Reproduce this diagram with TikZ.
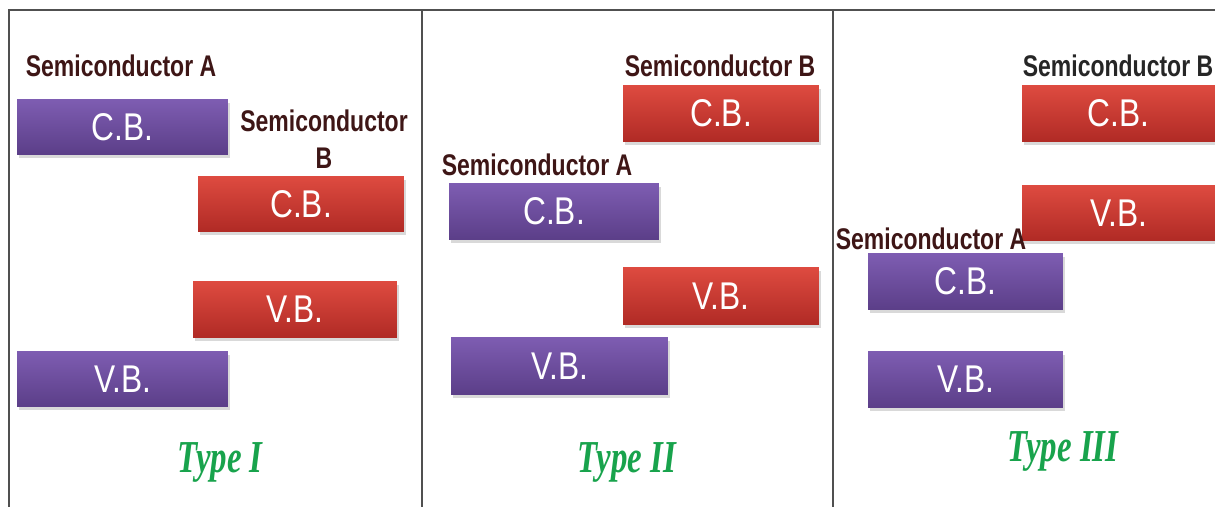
\documentclass[tikz,border=0pt]{standalone}
\usepackage{fontspec}
\usepackage{tikz}
\usetikzlibrary{positioning,shadows}
\newfontfamily\bandfont[FakeStretch=0.82]{Liberation Sans}
\newfontfamily\labfont[FakeStretch=0.77]{Liberation Sans}
\newfontfamily\typefont[FakeStretch=0.72]{Liberation Serif}
\definecolor{purpleTop}{HTML}{7E5DB2}
\definecolor{purpleBot}{HTML}{5B3E88}
\definecolor{redTop}{HTML}{DE4B40}
\definecolor{redBot}{HTML}{B02A25}
\definecolor{labcol}{HTML}{3E1616}
\definecolor{typecol}{HTML}{18A34C}
\definecolor{framecol}{HTML}{505050}

\begin{document}
\begin{tikzpicture}[x=0.02cm,y=-0.02cm,
  band/.style={rectangle,inner sep=0pt,text=white,
               font=\bandfont\fontsize{22}{24}\selectfont,
               drop shadow={opacity=0.3,shadow xshift=0.04cm,shadow yshift=-0.07cm}},
  aband/.style={band,top color=purpleTop,bottom color=purpleBot},
  bband/.style={band,top color=redTop,bottom color=redBot},
  semilab/.style={inner sep=0pt,text=labcol,align=center,
                  font=\labfont\bfseries\fontsize{17}{21}\selectfont},
  typelab/.style={inner sep=0pt,anchor=base,text=typecol,
                  font=\typefont\bfseries\itshape\fontsize{26}{28}\selectfont}]
  \useasboundingbox (0,0) rectangle (1215,507);
  % frame and panel dividers
  \draw[framecol,line width=1.2pt] (9,507) -- (9,10) -- (1215,10);
  \draw[framecol,line width=1.2pt] (422,10) -- (422,507) (833,10) -- (833,507);

  % Type I: straddling gap
  \node[semilab] (labA1) at (121,66) {Semiconductor A};
  \node[aband,minimum width=4.22cm,minimum height=1.12cm] (a1cb) at (122.5,127) {C.B.};
  \node[semilab] (labB1) at (324,139) {Semiconductor\\B};
  \node[bband,minimum width=4.12cm,minimum height=1.12cm] (b1cb) at (301,204) {C.B.};
  \node[bband,minimum width=4.08cm,minimum height=1.14cm] (b1vb) at (295,309.5) {V.B.};
  \node[aband,minimum width=4.22cm,minimum height=1.12cm] (a1vb) at (122.5,379) {V.B.};
  \node[typelab] (type1) at (220,472) {Type I};

  % Type II: staggered gap
  \node[semilab] (labB2) at (720,66) {Semiconductor B};
  \node[bband,minimum width=3.92cm,minimum height=1.14cm] (b2cb) at (721,113.5) {C.B.};
  \node[semilab] (labA2) at (537,165) {Semiconductor A};
  \node[aband,minimum width=4.2cm,minimum height=1.14cm] (a2cb) at (554,211.5) {C.B.};
  \node[bband,minimum width=3.92cm,minimum height=1.16cm] (b2vb) at (721,296) {V.B.};
  \node[aband,minimum width=4.34cm,minimum height=1.16cm] (a2vb) at (559.5,366) {V.B.};
  \node[typelab] (type2) at (627,472) {Type II};

  % Type III: broken gap
  \node[semilab,text=black!85] (labB3) at (1118,66) {Semiconductor B};
  \node[bband,minimum width=3.86cm,minimum height=1.14cm] (b3cb) at (1118.5,113.5) {C.B.};
  \node[bband,minimum width=3.86cm,minimum height=1.12cm] (b3vb) at (1118.5,213) {V.B.};
  \node[semilab] (labA3) at (931,239) {Semiconductor A};
  \node[aband,minimum width=3.9cm,minimum height=1.14cm] (a3cb) at (965.5,281.5) {C.B.};
  \node[aband,minimum width=3.9cm,minimum height=1.14cm] (a3vb) at (965.5,379.5) {V.B.};
  \node[typelab] (type3) at (1063,461) {Type III};
\end{tikzpicture}
\end{document}
